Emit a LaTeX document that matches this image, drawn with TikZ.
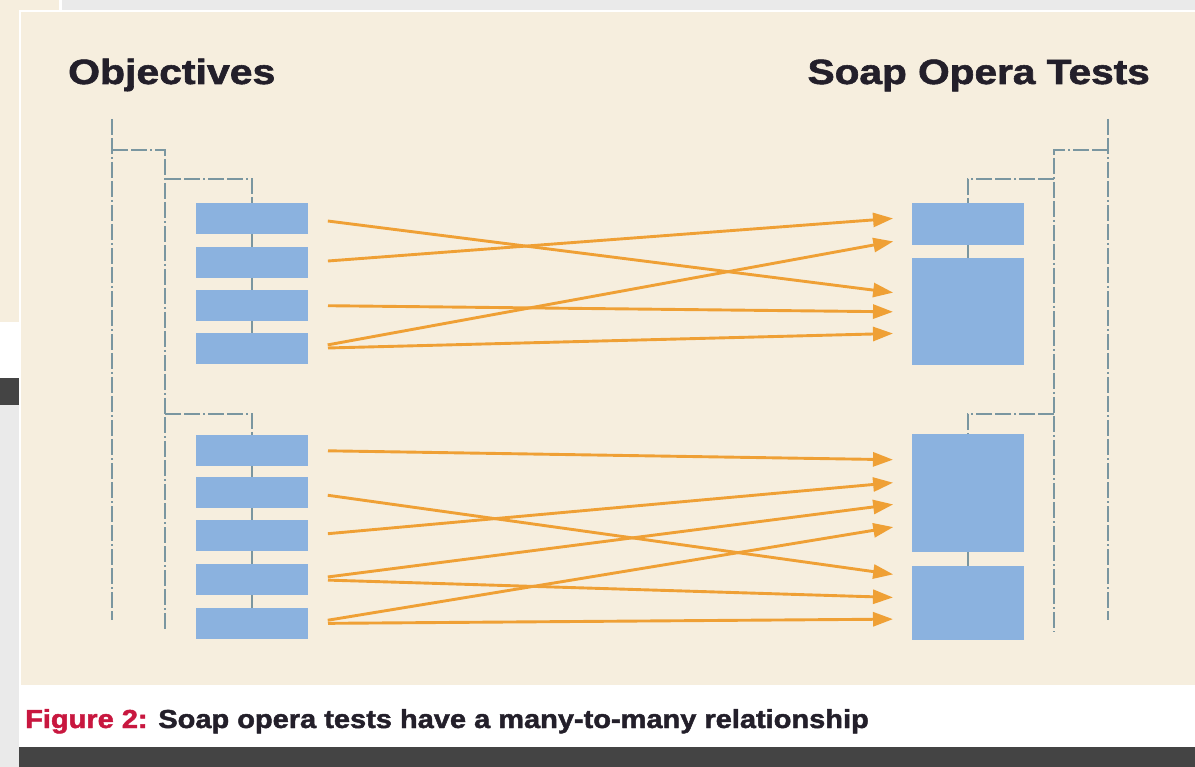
\documentclass[tikz,border=0pt]{standalone}
\usepackage{fontspec}
\usepackage{graphicx}
\setmainfont{Liberation Sans}
\newfontfamily\heavyfont[BoldFeatures={FakeBold=1.6}]{Liberation Sans}
\usetikzlibrary{arrows.meta}

\definecolor{panel}{HTML}{F6EEDE}
\definecolor{boxblue}{HTML}{8BB2DF}
\definecolor{flowor}{HTML}{EFA035}
\definecolor{treegray}{HTML}{7A96A0}
\definecolor{darkbar}{HTML}{444444}
\definecolor{lightgray}{HTML}{EAEAEA}
\definecolor{figred}{HTML}{C8173F}
\definecolor{ink}{HTML}{231F2A}

\tikzset{
  objbox/.style={rectangle, fill=boxblue, draw=none, inner sep=0pt, outer sep=0pt,
    minimum width=112pt, minimum height=31pt, anchor=north west},
  testbox/.style={objbox, minimum height=#1},
  tree/.style={treegray, line width=2.8pt,
    dash pattern=on 16pt off 3pt on 16pt off 3pt on 2pt off 3pt},
  flow/.style={flowor, line width=2.9pt, -{Triangle[length=20pt,width=14pt]},
    shorten <=20pt, shorten >=19pt},
  heading/.style={font=\heavyfont\fontsize{35}{40}\selectfont\bfseries, text=ink, inner sep=0pt}
}

\begin{document}
\begin{tikzpicture}[x=1pt, y=-1pt]
  \useasboundingbox (0,0) rectangle (1195,767);
  %%%%% page around the figure %%%%%
  \fill[lightgray] (0,0) rectangle (1195,767);
  \fill[panel] (0,0) rectangle (59,322);
  \fill[white] (59,0) rectangle (62,12);
  \fill[white] (0,322) rectangle (20,378);
  \fill[darkbar] (0,378) rectangle (19,405);
  \fill[white] (19,10) rectangle (1195,747);
  \fill[panel] (21,12) rectangle (1195,685);
  \fill[darkbar] (19,747) rectangle (1195,767);

  %%%%% headings %%%%%
  \node[heading, anchor=base west] (objhead) at (68,84) {\scalebox{1.17}[1]{Objectives}};
  \node[heading, anchor=base east] (testhead) at (1150,84) {\scalebox{1.16}[1]{Soap Opera Tests}};

  %%%%% tree lines (left) %%%%%
  \coordinate (ltop) at (112,119);
  \coordinate (lbot) at (112,620);
  \coordinate (lmid) at (165,630);
  \draw[tree] (ltop) -- (lbot);
  \draw[tree] (112,150) -| (lmid);

  %%%%% tree lines (right) %%%%%
  \coordinate (rtop) at (1108,119);
  \coordinate (rbot) at (1108,620);
  \coordinate (rmid) at (1054,632);
  \draw[tree] (rtop) -- (rbot);
  \draw[tree] (1108,150) -| (rmid);

  %%%%% objectives %%%%%
  \node[objbox] (o1) at (196,203) {};
  \node[objbox] (o2) at (196,247) {};
  \node[objbox] (o3) at (196,290) {};
  \node[objbox] (o4) at (196,333) {};
  \node[objbox] (o5) at (196,435) {};
  \node[objbox] (o6) at (196,477) {};
  \node[objbox] (o7) at (196,520) {};
  \node[objbox] (o8) at (196,564) {};
  \node[objbox] (o9) at (196,608) {};

  %%%%% soap opera tests %%%%%
  \node[testbox=42pt] (t1) at (912,203) {};
  \node[testbox=107pt] (t2) at (912,258) {};
  \node[testbox=118pt] (t3) at (912,434) {};
  \node[testbox=74pt] (t4) at (912,566) {};

  % branches down to the boxes
  \draw[tree] (165,179) -| (o1.north);
  \draw[tree] (o1.south) -- (o2.north) (o2.south) -- (o3.north) (o3.south) -- (o4.north);
  \draw[tree] (165,414) -| (o5.north);
  \draw[tree] (o5.south) -- (o6.north) (o6.south) -- (o7.north)
    (o7.south) -- (o8.north) (o8.south) -- (o9.north);
  \draw[tree] (1054,179) -| (t1.north);
  \draw[tree] (t1.south) -- (t2.north);
  \draw[tree] (1054,414) -| (t3.north);
  \draw[tree] (t3.south) -- (t4.north);

  %%%%% many-to-many links %%%%%
  \draw[flow] (o1.east) -- ([yshift=-37pt]t2.north west);
  \draw[flow] (o2.east) -- ([yshift=-14pt]t1.north west);
  \draw[flow] (o3.east) -- ([yshift=-54pt]t2.north west);
  \draw[flow] (o4.east) -- ([yshift=-35pt]t1.north west);
  \draw[flow] (o4.east) -- ([yshift=-75pt]t2.north west);

  \draw[flow] (o5.east) -- ([yshift=-26pt]t3.north west);
  \draw[flow] (o6.east) -- ([yshift=-11pt]t4.north west);
  \draw[flow] (o7.east) -- ([yshift=-47pt]t3.north west);
  \draw[flow] (o8.east) -- ([yshift=-68pt]t3.north west);
  \draw[flow] (o8.east) -- ([yshift=-32pt]t4.north west);
  \draw[flow] (o9.east) -- ([yshift=-90pt]t3.north west);
  \draw[flow] (o9.east) -- ([yshift=-53pt]t4.north west);

  %%%%% caption %%%%%
  \node[anchor=base west, inner sep=0pt, font=\heavyfont\fontsize{26}{30}\selectfont\bfseries]
    (caption) at (25,728)
    {\scalebox{1.115}[1]{\textcolor{figred}{Figure 2:} \textcolor{ink}{Soap opera tests have a many-to-many relationship}}};
\end{tikzpicture}
\end{document}
